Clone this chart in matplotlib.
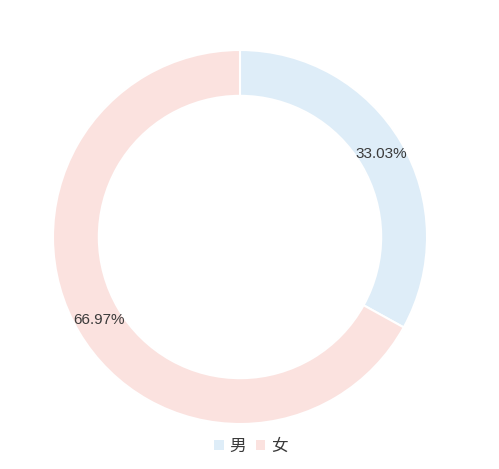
import matplotlib
matplotlib.use("Agg")
import matplotlib.pyplot as plt
from matplotlib.patches import Patch
import numpy as np

plt.rcParams['font.family'] = ['Noto Sans CJK SC', 'DejaVu Sans']

categories = ["男", "女"]
values = [33.03, 66.97]
colors = ["#deedf8", "#fbe2df"]

W, H = 499, 469
fig = plt.figure(figsize=(W / 100, H / 100), dpi=100)
cx, cy, r = 240, 237, 187
ax = fig.add_axes([(cx - r) / W, (H - cy - r) / H, 2 * r / W, 2 * r / H])
ring = 0.245
wedges, _ = ax.pie(values, colors=colors, startangle=90, counterclock=False,
                   radius=1, wedgeprops=dict(width=ring, edgecolor="white", linewidth=1.5))
start = 90
for v in values:
    ang = np.deg2rad(start - v / 100 * 360 / 2)
    rr = 1 - ring / 2
    ax.text(rr * np.cos(ang), rr * np.sin(ang), f"{v:.2f}%", ha="center", va="center",
            fontsize=11, color="#3a3a3a", family=['Liberation Sans', 'DejaVu Sans'])
    start -= v / 100 * 360
ax.set_xlim(-1, 1)
ax.set_ylim(-1, 1)
ax.set_aspect("equal")
ax.axis("off")

handles = [Patch(facecolor=c, edgecolor="none") for c in colors]
fig.legend(handles, categories, loc="center", bbox_to_anchor=(251 / W, 1 - 446 / H),
           ncol=2, frameon=False, fontsize=12, handlelength=0.55, handleheight=0.55,
           handletextpad=0.35, columnspacing=0.6, labelcolor="#3a3a3a")

fig.savefig("out.png", dpi=100)
